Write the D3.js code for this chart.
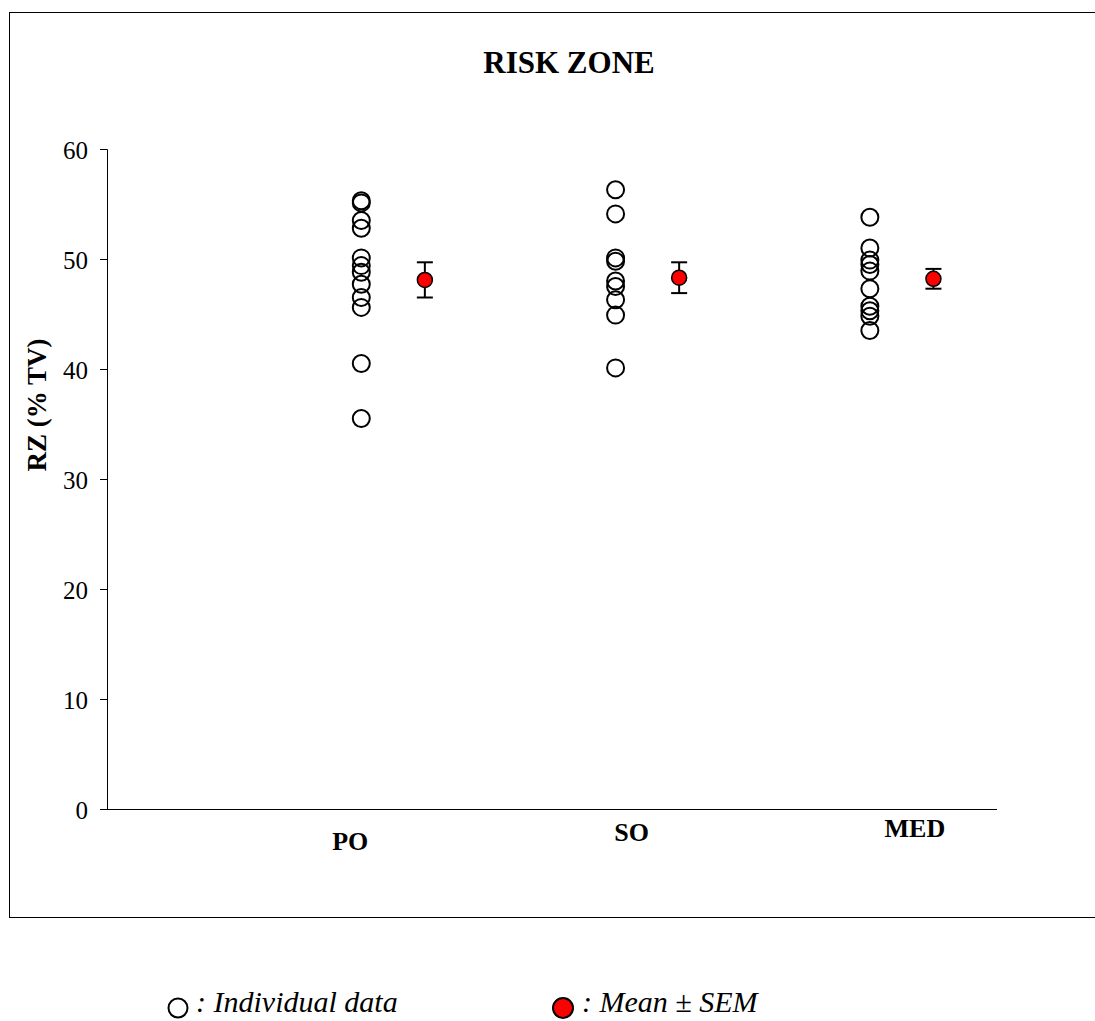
<!DOCTYPE html>
<html>
<head>
<meta charset="utf-8">
<script src="https://cdn.jsdelivr.net/npm/d3@7"></script>
<style>
  body { margin: 0; background: #fff; }
  svg text { font-family: "Liberation Serif", "Times New Roman", serif; }
</style>
</head>
<body>
<div id="wrapper"></div>
<script>
// data
const groups = ["PO", "SO", "MED"]
const poValues = [55.3, 55.1, 53.5, 52.8, 50.1, 49.4, 48.8, 47.7, 46.5, 45.6, 40.5, 35.5]
const soValues = [56.3, 54.1, 50.1, 49.8, 48.0, 47.5, 46.3, 44.9, 40.1]
const medValues = [53.8, 51.0, 49.9, 49.5, 48.9, 47.3, 45.7, 45.3, 44.8, 43.5]
const means = [48.1, 48.3, 48.2]
const sems = [1.6, 1.4, 0.9]
const yTicks = [0, 10, 20, 30, 40, 50, 60]

const individuals = [poValues, soValues, medValues]

const dimensions = {
  width: 1095,
  height: 1021,
  margin: { top: 149, right: 98, bottom: 212, left: 107 },
}
dimensions.boundedWidth = dimensions.width - dimensions.margin.left - dimensions.margin.right
dimensions.boundedHeight = dimensions.height - dimensions.margin.top - dimensions.margin.bottom

const svg = d3.select("#wrapper")
  .append("svg")
    .attr("width", dimensions.width)
    .attr("height", dimensions.height)

// outer frame
svg.append("rect")
    .attr("x", 9.5)
    .attr("y", 12.5)
    .attr("width", 1090)
    .attr("height", 905)
    .attr("fill", "none")
    .attr("stroke", "#000")
    .attr("stroke-width", 1)

svg.append("text")
    .attr("x", 569)
    .attr("y", 73)
    .attr("text-anchor", "middle")
    .style("font-size", "31px")
    .style("font-weight", "bold")
    .text("RISK ZONE")

const bounds = svg.append("g")
    .attr("transform", `translate(${dimensions.margin.left}, ${dimensions.margin.top})`)

// scales: groups sit at x = 1, 2, 3 on a 0..3.5 axis, means shifted by 0.25
const xScale = d3.scaleLinear()
    .domain([0, 3.5])
    .range([0, dimensions.boundedWidth])

const yScale = d3.scaleLinear()
    .domain([0, 60])
    .range([dimensions.boundedHeight, 0])

// axes
const yAxis = bounds.append("g")
    .call(d3.axisLeft(yScale).tickValues(yTicks).tickSize(7).tickPadding(12))
yAxis.select(".domain").attr("stroke", "#000")
yAxis.selectAll(".tick line").attr("stroke", "#000")
yAxis.selectAll("text")
    .attr("fill", "#000")
    .attr("dy", "0.36em")
    .style("font-size", "25px")

bounds.append("line")
    .attr("x1", 0)
    .attr("x2", dimensions.boundedWidth)
    .attr("y1", dimensions.boundedHeight + 0.5)
    .attr("y2", dimensions.boundedHeight + 0.5)
    .attr("stroke", "#000")

// category labels (they sit at slightly different heights in the original)
const labelDy = [41, 32, 28]
const labelDx = [-11, 16, 45]
bounds.selectAll(".group-label")
  .data(groups)
  .join("text")
    .attr("class", "group-label")
    .attr("x", (d, i) => xScale(i + 1) + labelDx[i])
    .attr("y", (d, i) => dimensions.boundedHeight + labelDy[i])
    .attr("text-anchor", "middle")
    .style("font-size", "26px")
    .style("font-weight", "bold")
    .text(d => d)

svg.append("text")
    .attr("transform", "translate(46, 405) rotate(-90)")
    .attr("text-anchor", "middle")
    .style("font-size", "27px")
    .style("font-weight", "bold")
    .text("RZ (% TV)")

// individual data
individuals.forEach((values, i) => {
  bounds.append("g")
    .selectAll("circle")
    .data(values)
    .join("circle")
      .attr("cx", xScale(i + 1))
      .attr("cy", d => yScale(d))
      .attr("r", 8.5)
      .attr("fill", "none")
      .attr("stroke", "#000")
      .attr("stroke-width", 2)
})

// mean +- SEM
const meanGroup = bounds.append("g")
  .selectAll("g")
  .data(means)
  .join("g")

meanGroup.append("line")
    .attr("x1", (d, i) => xScale(i + 1.25))
    .attr("x2", (d, i) => xScale(i + 1.25))
    .attr("y1", (d, i) => yScale(d + sems[i]))
    .attr("y2", (d, i) => yScale(d - sems[i]))
    .attr("stroke", "#000")
    .attr("stroke-width", 2)

;[1, -1].forEach(sign => {
  meanGroup.append("line")
      .attr("x1", (d, i) => xScale(i + 1.25) - 8)
      .attr("x2", (d, i) => xScale(i + 1.25) + 8)
      .attr("y1", (d, i) => yScale(d + sign * sems[i]))
      .attr("y2", (d, i) => yScale(d + sign * sems[i]))
      .attr("stroke", "#000")
      .attr("stroke-width", 2)
})

meanGroup.append("circle")
    .attr("cx", (d, i) => xScale(i + 1.25))
    .attr("cy", d => yScale(d))
    .attr("r", 7.5)
    .attr("fill", "#ff0000")
    .attr("stroke", "#000")
    .attr("stroke-width", 1.5)

// legend
const legend = svg.append("g")
legend.append("circle")
    .attr("cx", 178).attr("cy", 1008).attr("r", 9.5)
    .attr("fill", "none").attr("stroke", "#000").attr("stroke-width", 2)
legend.append("text")
    .attr("x", 196).attr("y", 1012)
    .style("font-size", "30px").style("font-style", "italic")
    .text(": Individual data")
legend.append("circle")
    .attr("cx", 563).attr("cy", 1008).attr("r", 10)
    .attr("fill", "#ff0000").attr("stroke", "#000").attr("stroke-width", 2)
legend.append("text")
    .attr("x", 582).attr("y", 1012)
    .style("font-size", "30px").style("font-style", "italic")
    .text(": Mean \u00b1 SEM")
</script>
</body>
</html>
